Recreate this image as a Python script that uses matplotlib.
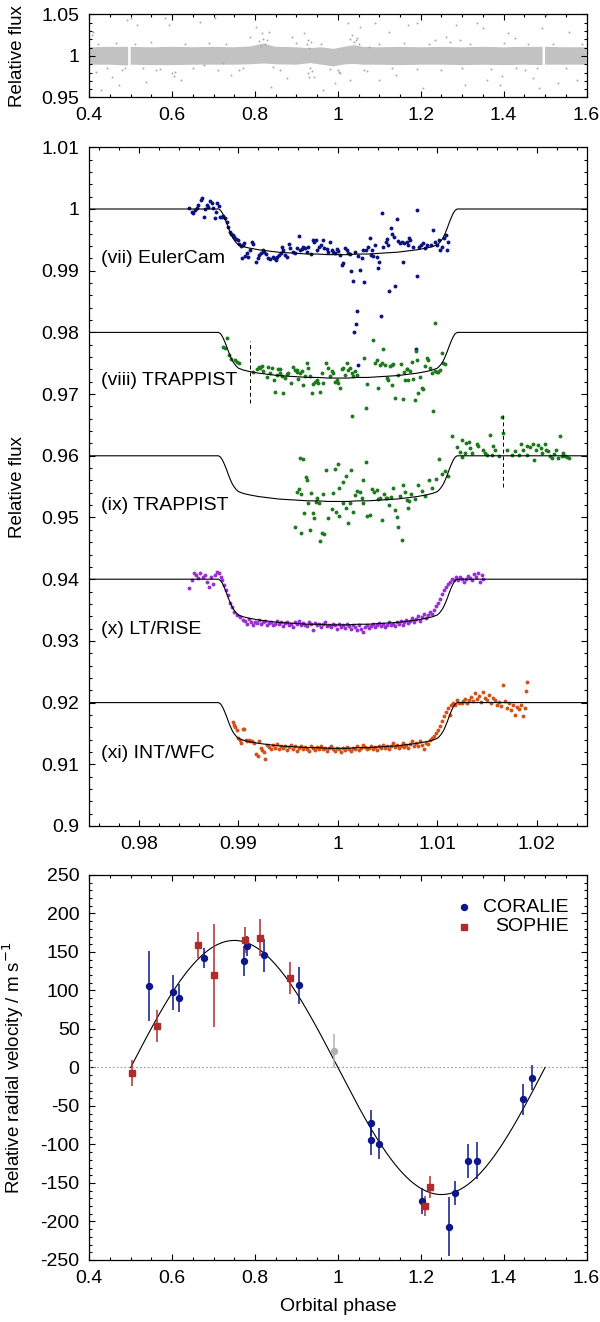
import numpy as np
import matplotlib
matplotlib.use("Agg")
import matplotlib.pyplot as plt
from matplotlib.ticker import MultipleLocator, FuncFormatter

plt.rcParams['font.family'] = ['Liberation Sans', 'DejaVu Sans']
plt.rcParams['font.size'] = 14
plt.rcParams['axes.unicode_minus'] = False

# ---------------------------------------------------------------- data
# WASP survey light curve: dense band envelope (phase, low, high) + sparse outliers
wasp_band_phase = [0.400, 0.450, 0.494, 0.497, 0.500, 0.550, 0.600, 0.650, 0.700, 0.750, 0.790, 0.820,
                   0.850, 0.900, 0.925, 0.935, 0.960, 0.990, 1.005, 1.020, 1.040, 1.060, 1.100, 1.150,
                   1.200, 1.250, 1.300, 1.350, 1.400, 1.450, 1.494, 1.497, 1.500, 1.550, 1.600]
wasp_band_low = [0.9895, 0.9895, 0.9885, np.nan, 0.9895, 0.9890, 0.9890, 0.9895, 0.9895, 0.9895, 0.9900, 0.9910,
                 0.9900, 0.9895, 0.9910, 0.9915, 0.9895, 0.9875, 0.9890, 0.9900, 0.9905, 0.9895, 0.9895, 0.9890,
                 0.9895, 0.9895, 0.9890, 0.9895, 0.9890, 0.9895, 0.9890, np.nan, 0.9895, 0.9895, 0.9895]
wasp_band_high = [1.0105, 1.0110, 1.0110, np.nan, 1.0110, 1.0105, 1.0110, 1.0105, 1.0110, 1.0105, 1.0115, 1.0150,
                  1.0110, 1.0105, 1.0095, 1.0095, 1.0105, 1.0085, 1.0100, 1.0115, 1.0130, 1.0110, 1.0105, 1.0110,
                  1.0105, 1.0110, 1.0105, 1.0110, 1.0105, 1.0110, 1.0110, np.nan, 1.0110, 1.0105, 1.0105]
wasp_outliers = [
    (0.4075, 1.0252), (0.4100, 1.0291), (0.4169, 0.9812), (0.4279, 0.9592), (0.4539, 0.9752), (0.4724, 0.9652),
    (0.4910, 1.0432), (0.5003, 1.0452), (0.5142, 1.0372), (0.5375, 0.9692), (0.5607, 0.9832), (0.5839, 1.0452),
    (0.5931, 1.0372), (0.6071, 0.9812), (0.6210, 0.9712), (0.6674, 1.0411), (0.6766, 0.9892), (0.7045, 1.0452),
    (0.7231, 0.9912), (0.7417, 0.9772), (0.7603, 0.9832), (0.7880, 1.0231), (0.8020, 1.0351), (0.8158, 1.0272),
    (0.8344, 1.0291), (0.8392, 0.9632), (0.8438, 0.9872), (0.8761, 0.9733), (0.8901, 1.0231), (0.9179, 1.0272),
    (0.9273, 1.0192), (0.9413, 0.9752), (0.9644, 0.9592), (0.9922, 0.9673), (1.0016, 0.9812), (1.0248, 1.0392),
    (1.0294, 0.9712), (1.0433, 1.0192), (1.0525, 1.0351), (1.0619, 0.9832), (1.0757, 1.0112), (1.0897, 1.0392),
    (1.0988, 0.9712), (1.1223, 1.0291), (1.1408, 0.9772), (1.1686, 1.0372), (1.1918, 1.0392), (1.2057, 0.9613),
    (1.2335, 1.0192), (1.2615, 1.0231), (1.2846, 1.0372), (1.2938, 1.0192), (1.3078, 0.9652), (1.3356, 1.0392),
    (1.3496, 1.0332), (1.3588, 0.9712), (1.3913, 0.9652), (1.4099, 1.0272), (1.4285, 1.0212), (1.4516, 0.9832),
    (1.4702, 0.9733), (1.4842, 0.9613), (1.4934, 1.0332), (1.5028, 1.0492), (1.5306, 0.9673), (1.5583, 1.0291),
    (1.5769, 0.9712), (0.4200, 1.0150), (0.4420, 0.9860), (0.4650, 1.0160), (0.4800, 0.9830), (0.4870, 0.9855),
    (0.5100, 1.0140), (0.5300, 0.9850), (0.5500, 1.0170), (0.5700, 0.9840), (0.6000, 0.9790), (0.6050, 0.9760),
    (0.6300, 1.0150), (0.6500, 0.9850), (0.6900, 1.0160), (0.7100, 0.9830), (0.7300, 1.0140), (0.7700, 0.9850),
    (0.8100, 1.0180), (0.8200, 1.0210), (0.8250, 1.0150), (0.8300, 1.0190), (0.8150, 1.0120), (0.8600, 0.9830),
    (0.9000, 1.0160), (0.9250, 1.0150), (0.9280, 0.9800), (0.9300, 0.9750), (0.9310, 1.0100), (0.9330, 0.9850),
    (0.9350, 1.0170), (0.9380, 0.9820), (0.9600, 1.0140), (0.9800, 0.9840), (1.0000, 0.9830), (1.0050, 0.9800),
    (1.0300, 1.0200), (1.0350, 1.0250), (1.0400, 1.0170), (1.0450, 1.0220), (1.0500, 1.0150), (1.0700, 0.9820),
    (1.1000, 1.0150), (1.1300, 0.9850), (1.1600, 1.0160), (1.1900, 0.9840), (1.2200, 1.0150), (1.2500, 0.9830),
    (1.2700, 1.0170), (1.3000, 0.9850), (1.3200, 1.0140), (1.3700, 0.9840), (1.3950, 0.9760), (1.4000, 1.0160),
    (1.4300, 0.9850), (1.4600, 1.0150), (1.4800, 0.9860), (1.5200, 1.0140), (1.5500, 0.9850), (1.5900, 1.0150),
]

# transit model template: half-width from mid-transit and depth
transit_dphi = [0.0000, 0.0010, 0.0020, 0.0030, 0.0040, 0.0050, 0.0060, 0.0070, 0.0080, 0.0090, 0.0095,
                0.0100, 0.0102, 0.0104, 0.0106, 0.0108, 0.0110, 0.0112, 0.0114, 0.0116, 0.0118, 0.0120]
transit_depth = [0.0074, 0.0074, 0.0073, 0.0073, 0.0072, 0.0071, 0.0070, 0.0068, 0.0066, 0.0063, 0.0061,
                 0.0058, 0.0055, 0.0051, 0.0046, 0.0039, 0.0031, 0.0022, 0.0014, 0.0007, 0.0002, 0.0000]
lc_names = ['(vii) EulerCam', '(viii) TRAPPIST', '(ix) TRAPPIST', '(x) LT/RISE', '(xi) INT/WFC']
lc_baselines = [1.00, 0.98, 0.96, 0.94, 0.92]
lc_label_y = [0.9920, 0.9722, 0.9519, 0.9319, 0.9117]
lc_colors = ['#0b1385', '#1e7a1e', '#1e7a1e', '#9a2fd6', '#d2521a']
meridian_flips = [(0.99117, 0.96861, 0.97866), (1.01662, 0.95499, 0.96661)]

euler = [
    (0.98503, 1.00011), (0.98530, 0.99946), (0.98547, 0.99930), (0.98564, 0.99984), (0.98581, 1.00022),
    (0.98597, 1.00065), (0.98621, 1.00146), (0.98634, 1.00184), (0.98654, 0.99876), (0.98664, 1.00000),
    (0.98681, 1.00065), (0.98698, 1.00038), (0.98715, 1.00130), (0.98731, 1.00092), (0.98748, 1.00011),
    (0.98765, 0.99849), (0.98775, 0.99957), (0.98788, 1.00092), (0.98808, 1.00054), (0.98815, 0.99876),
    (0.98832, 0.99865), (0.98849, 0.99892), (0.98865, 0.99849), (0.98882, 0.99795), (0.98899, 0.99714),
    (0.98916, 0.99633), (0.98926, 0.99590), (0.98942, 0.99579), (0.98959, 0.99552), (0.98976, 0.99514),
    (0.98993, 0.99498), (0.99009, 0.99428), (0.99026, 0.99406), (0.99043, 0.99417), (0.99056, 0.99444),
    (0.99036, 0.99201), (0.99066, 0.99244), (0.99083, 0.99293), (0.99100, 0.99228), (0.99117, 0.99336),
    (0.99133, 0.99460), (0.99150, 0.99439), (0.99177, 0.99136), (0.99194, 0.99201), (0.99210, 0.99255),
    (0.99224, 0.99293), (0.99244, 0.99336), (0.99261, 0.99309), (0.99277, 0.99266), (0.99301, 0.99212),
    (0.99318, 0.99190), (0.99344, 0.99228), (0.99361, 0.99212), (0.99374, 0.99174), (0.99391, 0.99228),
    (0.99408, 0.99255), (0.99425, 0.99282), (0.99435, 0.99385), (0.99452, 0.99336), (0.99468, 0.99255),
    (0.99485, 0.99228), (0.99505, 0.99428), (0.99519, 0.99374), (0.99545, 0.99309), (0.99569, 0.99282),
    (0.99586, 0.99363), (0.99609, 0.99563), (0.99619, 0.99331), (0.99636, 0.99352), (0.99653, 0.99385),
    (0.99669, 0.99374), (0.99686, 0.99309), (0.99703, 0.99385), (0.99726, 0.99277), (0.99746, 0.99498),
    (0.99763, 0.99471), (0.99780, 0.99498), (0.99793, 0.99336), (0.99813, 0.99390), (0.99827, 0.99417),
    (0.99854, 0.99498), (0.99864, 0.99363), (0.99887, 0.99352), (0.99904, 0.99309), (0.99921, 0.99471),
    (0.99938, 0.99336), (0.99954, 0.99309), (0.99971, 0.99282), (0.99988, 0.99347), (1.00005, 0.99320),
    (1.00021, 0.99255), (1.00038, 0.99093), (1.00055, 0.99131), (1.00071, 0.99363), (1.00088, 0.99336),
    (1.00105, 0.99282), (1.00122, 0.99266), (1.00132, 0.99001), (1.00148, 0.98839), (1.00172, 0.99309),
    (1.00205, 0.99244), (1.00222, 0.99017), (1.00239, 0.99201), (1.00249, 0.99331), (1.00266, 0.98823),
    (1.00279, 0.99331), (1.00299, 0.99390), (1.00323, 0.99536), (1.00329, 0.99255), (1.00346, 0.99336),
    (1.00356, 0.99244), (1.00373, 0.99417), (1.00390, 0.99228), (1.00400, 0.99039), (1.00413, 0.99136),
    (1.00440, 0.99941), (1.00457, 0.99390), (1.00483, 0.99471), (1.00497, 0.99509), (1.00507, 0.99417),
    (1.00517, 0.98672), (1.00530, 0.99687), (1.00547, 0.99595), (1.00560, 0.99552), (1.00574, 0.98753),
    (1.00591, 0.99838), (1.00607, 0.99482), (1.00624, 0.99444), (1.00641, 0.99460), (1.00651, 0.99147),
    (1.00664, 0.99444), (1.00691, 0.99471), (1.00711, 0.99536), (1.00189, 0.98347), (1.00179, 0.98130),
    (1.00162, 0.98012), (1.00431, 0.98271), (1.00206, 0.97472), (1.00786, 0.97726), (1.00702, 0.99416),
    (1.00728, 0.99497), (1.00755, 0.99389), (1.00799, 0.99984), (1.00818, 0.99389), (1.00837, 0.99416),
    (1.00857, 0.99443), (1.00876, 0.99362), (1.00896, 0.99416), (1.00934, 0.99416), (1.00954, 0.99659),
    (1.00973, 0.99470), (1.00992, 0.99416), (1.01012, 0.99497), (1.01031, 0.99335), (1.01050, 0.99389),
    (1.01070, 0.99524), (1.01089, 0.99578), (1.01096, 0.99335), (1.01108, 0.99470), (1.00799, 0.98919),
]

trappist_a = [
    (0.98842, 0.97758), (0.98865, 0.97742), (0.98882, 0.97904), (0.98909, 0.97633), (0.98922, 0.97563),
    (0.98966, 0.97552), (0.98989, 0.97525), (0.99009, 0.97509), (0.99151, 0.97364), (0.99184, 0.97402),
    (0.99211, 0.97434), (0.99234, 0.97456), (0.99251, 0.97380), (0.99285, 0.97283), (0.99301, 0.97445),
    (0.99318, 0.97348), (0.99335, 0.97418), (0.99358, 0.97229), (0.99368, 0.97040), (0.99385, 0.97310),
    (0.99402, 0.97402), (0.99419, 0.97337), (0.99435, 0.97294), (0.99452, 0.97013), (0.99469, 0.97256),
    (0.99486, 0.97326), (0.99502, 0.97337), (0.99526, 0.97186), (0.99553, 0.97445), (0.99569, 0.97391),
    (0.99586, 0.97364), (0.99603, 0.97240), (0.99620, 0.97348), (0.99636, 0.97380), (0.99653, 0.97148),
    (0.99670, 0.97294), (0.99687, 0.97499), (0.99703, 0.97418), (0.99720, 0.97294), (0.99737, 0.97013),
    (0.99754, 0.97159), (0.99771, 0.97202), (0.99787, 0.97229), (0.99804, 0.97175), (0.99821, 0.97040),
    (0.99838, 0.97337), (0.99854, 0.97186), (0.99881, 0.97499), (0.99905, 0.97418), (0.99921, 0.97294),
    (0.99938, 0.97380), (0.99955, 0.97337), (0.99972, 0.97202), (0.99988, 0.97229), (1.00005, 0.97175),
    (1.00022, 0.97094), (1.00039, 0.97402), (1.00055, 0.97418), (1.00072, 0.97310), (1.00089, 0.97510),
    (1.00106, 0.97391), (1.00123, 0.97418), (1.00139, 0.97337), (1.00156, 0.97294), (1.00173, 0.97380),
    (1.00189, 0.97310), (1.00266, 0.97580), (1.00290, 0.97159), (1.00280, 0.96770), (1.00146, 0.96645),
    (1.00357, 0.97877), (1.00374, 0.97499), (1.00390, 0.97553), (1.00407, 0.97094), (1.00424, 0.97472),
    (1.00441, 0.97510), (1.00458, 0.97726), (1.00474, 0.97472), (1.00491, 0.97256), (1.00508, 0.97229),
    (1.00525, 0.97456), (1.00541, 0.97148), (1.00558, 0.97488), (1.00578, 0.96942), (1.00608, 0.97310),
    (1.00632, 0.97488), (1.00652, 0.96921), (1.00665, 0.97364), (1.00675, 0.97229), (1.00692, 0.97402),
    (1.00709, 0.97229), (1.00726, 0.97380), (1.00742, 0.97526), (1.00759, 0.97240), (1.00773, 0.96905),
    (1.00794, 0.97553), (1.00809, 0.97024), (1.00826, 0.97272), (1.00843, 0.97094), (1.00860, 0.97078),
    (1.00877, 0.97456), (1.00893, 0.97580), (1.00910, 0.97553), (1.00927, 0.97418), (1.00944, 0.97348),
    (1.00960, 0.96726), (1.00977, 0.97380), (1.00994, 0.97364), (1.01011, 0.97364), (1.01028, 0.97391),
    (1.01044, 0.97661), (1.01061, 0.97499), (1.01078, 0.97488), (1.00973, 0.98158), (1.00790, 0.97700),
    (0.99217, 0.97417), (0.99418, 0.97401), (0.99586, 0.97390), (1.00541, 0.97471), (1.00692, 0.97401),
]

trappist_b = [
    (0.99619, 0.95959), (0.99646, 0.95948), (0.99881, 0.95770), (0.99971, 0.95781), (0.99998, 0.95862),
    (1.00132, 0.95770), (1.00283, 0.95905), (0.99680, 0.95662), (0.99693, 0.95608), (1.00079, 0.95678),
    (1.00250, 0.95608), (1.00055, 0.95570), (1.00015, 0.95473), (0.99955, 0.95403), (0.99593, 0.95419),
    (0.99609, 0.95457), (0.99730, 0.95392), (0.99794, 0.95311), (0.99854, 0.95376), (0.99780, 0.95257),
    (0.99807, 0.95230), (0.99703, 0.95230), (0.99626, 0.95376), (0.99660, 0.95078), (0.99747, 0.95068),
    (0.99760, 0.94987), (0.99898, 0.94987), (0.99938, 0.95132), (0.99981, 0.95095), (1.00015, 0.95024),
    (1.00048, 0.95230), (1.00082, 0.95149), (1.00105, 0.94906), (1.00122, 0.95230), (1.00156, 0.95084),
    (1.00176, 0.95365), (1.00189, 0.95430), (1.00223, 0.95408), (1.00240, 0.95311), (1.00256, 0.95230),
    (1.00290, 0.95030), (1.00323, 0.95041), (1.00343, 0.95457), (1.00364, 0.95419), (1.00390, 0.95446),
    (1.00407, 0.95295), (1.00424, 0.95322), (1.00441, 0.94960), (1.00464, 0.95376), (1.00481, 0.95311),
    (1.00498, 0.95322), (1.00518, 0.95203), (1.00531, 0.95338), (1.00558, 0.95484), (1.00575, 0.95122),
    (1.00591, 0.95014), (1.00608, 0.94852), (1.00625, 0.95354), (1.00642, 0.94636), (1.00652, 0.95527),
    (1.00675, 0.95419), (1.00692, 0.95284), (1.00709, 0.95149), (1.00719, 0.95268), (0.99569, 0.94852),
    (0.99626, 0.94754), (0.99720, 0.94798), (0.99837, 0.94744), (0.99861, 0.94733), (0.99821, 0.94619),
    (1.00740, 0.95380), (1.00780, 0.95300), (1.00810, 0.95520), (1.00850, 0.95430), (1.00880, 0.95350),
    (1.00920, 0.95600), (1.00950, 0.95480), (1.00990, 0.95620), (1.01020, 0.95950), (1.01050, 0.95700),
    (1.01080, 0.95760), (1.01110, 0.95680), (1.01145, 0.96327), (1.01195, 0.96138), (1.01228, 0.96067),
    (1.01245, 0.96256), (1.01279, 0.96040), (1.01289, 0.96202), (1.01319, 0.96229), (1.01346, 0.96051),
    (1.01396, 0.96192), (1.01413, 0.96159), (1.01456, 0.96094), (1.01503, 0.96013), (1.01530, 0.96337),
    (1.01547, 0.96013), (1.01564, 0.96159), (1.01580, 0.96094), (1.01647, 0.96635), (1.01664, 0.96375),
    (1.01698, 0.96094), (1.01748, 0.96013), (1.01838, 0.96192), (1.01865, 0.96094), (1.01899, 0.96159),
    (1.01932, 0.96148), (1.01959, 0.96192), (1.01989, 0.96094), (1.02016, 0.96175), (1.02050, 0.96051),
    (1.02083, 0.96192), (1.02093, 0.96094), (1.02130, 0.95990), (1.02170, 0.96030), (1.02210, 0.95960),
    (1.02229, 0.96321), (1.02249, 0.95990), (1.02288, 0.96000), (1.02326, 0.95970), (1.01250, 0.95980),
    (1.01330, 0.96130), (1.01480, 0.96050), (1.01620, 0.95990), (1.01780, 0.96080), (1.01820, 0.96020),
    (1.01900, 0.96010), (1.01970, 0.95930), (1.02040, 0.96130), (1.02110, 0.96070), (1.02150, 0.95960),
    (1.02190, 0.96100), (1.02260, 0.96050), (1.02300, 0.95980),
]

lt_rise = [
    (0.98500, 0.93853), (0.98530, 0.93990), (0.98550, 0.94100), (0.98570, 0.94070), (0.98590, 0.94020),
    (0.98610, 0.94100), (0.98640, 0.94040), (0.98660, 0.94070), (0.98680, 0.93960), (0.98700, 0.93880),
    (0.98720, 0.94040), (0.98740, 0.93930), (0.98760, 0.94070), (0.98780, 0.94110), (0.98800, 0.94100),
    (0.98820, 0.94040), (0.98840, 0.93990), (0.98860, 0.93900), (0.98880, 0.93820), (0.98900, 0.93740),
    (0.98916, 0.93609), (0.98935, 0.93544), (0.98954, 0.93474), (0.98981, 0.93420), (0.99020, 0.93382),
    (0.99047, 0.93339), (0.99070, 0.93330), (0.99090, 0.93280), (0.99110, 0.93360), (0.99130, 0.93300),
    (0.99150, 0.93250), (0.99170, 0.93310), (0.99190, 0.93290), (0.99210, 0.93340), (0.99230, 0.93270),
    (0.99250, 0.93300), (0.99270, 0.93320), (0.99290, 0.93260), (0.99310, 0.93290), (0.99330, 0.93310),
    (0.99350, 0.93250), (0.99370, 0.93280), (0.99390, 0.93330), (0.99410, 0.93270), (0.99430, 0.93300),
    (0.99450, 0.93240), (0.99470, 0.93290), (0.99490, 0.93310), (0.99510, 0.93260), (0.99530, 0.93280),
    (0.99550, 0.93230), (0.99570, 0.93300), (0.99590, 0.93270), (0.99610, 0.93320), (0.99630, 0.93250),
    (0.99650, 0.93290), (0.99670, 0.93260), (0.99690, 0.93240), (0.99710, 0.93300), (0.99730, 0.93270),
    (0.99750, 0.93180), (0.99770, 0.93290), (0.99790, 0.93250), (0.99810, 0.93280), (0.99830, 0.93230),
    (0.99850, 0.93270), (0.99870, 0.93300), (0.99890, 0.93240), (0.99910, 0.93260), (0.99930, 0.93220),
    (0.99950, 0.93280), (0.99970, 0.93250), (0.99990, 0.93200), (1.00010, 0.93270), (1.00030, 0.93230),
    (1.00050, 0.93260), (1.00070, 0.93210), (1.00090, 0.93280), (1.00110, 0.93240), (1.00130, 0.93190),
    (1.00150, 0.93260), (1.00170, 0.93220), (1.00190, 0.93170), (1.00210, 0.93250), (1.00230, 0.93200),
    (1.00250, 0.93150), (1.00270, 0.93230), (1.00290, 0.93260), (1.00310, 0.93210), (1.00330, 0.93240),
    (1.00350, 0.93270), (1.00370, 0.93230), (1.00390, 0.93250), (1.00410, 0.93290), (1.00430, 0.93240),
    (1.00450, 0.93270), (1.00470, 0.93220), (1.00490, 0.93260), (1.00510, 0.93300), (1.00530, 0.93250),
    (1.00550, 0.93280), (1.00570, 0.93240), (1.00590, 0.93300), (1.00610, 0.93270), (1.00630, 0.93320),
    (1.00650, 0.93260), (1.00670, 0.93300), (1.00690, 0.93340), (1.00710, 0.93290), (1.00730, 0.93320),
    (1.00750, 0.93370), (1.00770, 0.93310), (1.00790, 0.93350), (1.00810, 0.93400), (1.00830, 0.93330),
    (1.00850, 0.93380), (1.00870, 0.93430), (1.00890, 0.93370), (1.00910, 0.93420), (1.00930, 0.93470),
    (1.00950, 0.93440), (1.00970, 0.93500), (1.00990, 0.93560), (1.01010, 0.93620), (1.01030, 0.93680),
    (1.01050, 0.93760), (1.01070, 0.93820), (1.01090, 0.93880), (1.01110, 0.93930), (1.01130, 0.93960),
    (1.01150, 0.94010), (1.01170, 0.93990), (1.01190, 0.94030), (1.01210, 0.93980), (1.01230, 0.94040),
    (1.01250, 0.94010), (1.01270, 0.93960), (1.01290, 0.94000), (1.01310, 0.94050), (1.01330, 0.94020),
    (1.01350, 0.93990), (1.01370, 0.94080), (1.01390, 0.94040), (1.01410, 0.94100), (1.01430, 0.93960),
    (1.01450, 0.94070), (1.01460, 0.94000),
]

int_wfc = [
    (0.98950, 0.91690), (0.98960, 0.91640), (0.98970, 0.91610), (0.98985, 0.91560), (0.99000, 0.91420),
    (0.99015, 0.91390), (0.99030, 0.91340), (0.99045, 0.91580), (0.99060, 0.91570), (0.99075, 0.91390),
    (0.99090, 0.91370), (0.99105, 0.91400), (0.99120, 0.91380), (0.99140, 0.91380), (0.99160, 0.91340),
    (0.99180, 0.91160), (0.99195, 0.91130), (0.99210, 0.91370), (0.99225, 0.91260), (0.99240, 0.91230),
    (0.99255, 0.91200), (0.99270, 0.91090), (0.99290, 0.91310), (0.99310, 0.91280), (0.99330, 0.91250),
    (0.99350, 0.91310), (0.99370, 0.91270), (0.99390, 0.91330), (0.99410, 0.91240), (0.99430, 0.91290),
    (0.99450, 0.91260), (0.99470, 0.91300), (0.99490, 0.91230), (0.99510, 0.91280), (0.99530, 0.91310),
    (0.99550, 0.91250), (0.99570, 0.91290), (0.99590, 0.91220), (0.99610, 0.91270), (0.99630, 0.91300),
    (0.99650, 0.91240), (0.99670, 0.91280), (0.99690, 0.91250), (0.99710, 0.91210), (0.99730, 0.91290),
    (0.99750, 0.91260), (0.99770, 0.91230), (0.99790, 0.91280), (0.99810, 0.91250), (0.99830, 0.91300),
    (0.99850, 0.91240), (0.99870, 0.91270), (0.99890, 0.91220), (0.99910, 0.91260), (0.99930, 0.91290),
    (0.99950, 0.91240), (0.99970, 0.91210), (0.99990, 0.91270), (1.00010, 0.91250), (1.00030, 0.91200),
    (1.00050, 0.91260), (1.00070, 0.91230), (1.00090, 0.91280), (1.00110, 0.91240), (1.00130, 0.91210),
    (1.00150, 0.91270), (1.00170, 0.91250), (1.00190, 0.91290), (1.00210, 0.91230), (1.00230, 0.91260),
    (1.00250, 0.91310), (1.00270, 0.91280), (1.00290, 0.91240), (1.00310, 0.91270), (1.00330, 0.91300),
    (1.00350, 0.91250), (1.00370, 0.91280), (1.00390, 0.91230), (1.00410, 0.91290), (1.00430, 0.91260),
    (1.00450, 0.91320), (1.00470, 0.91270), (1.00490, 0.91300), (1.00510, 0.91250), (1.00530, 0.91290),
    (1.00550, 0.91340), (1.00570, 0.91280), (1.00590, 0.91310), (1.00610, 0.91260), (1.00630, 0.91300),
    (1.00650, 0.91350), (1.00670, 0.91280), (1.00690, 0.91320), (1.00710, 0.91270), (1.00730, 0.91330),
    (1.00750, 0.91370), (1.00770, 0.91300), (1.00790, 0.91340), (1.00810, 0.91290), (1.00830, 0.91380),
    (1.00850, 0.91310), (1.00870, 0.91250), (1.00890, 0.91350), (1.00910, 0.91330), (1.00930, 0.91390),
    (1.00950, 0.91420), (1.00970, 0.91460), (1.00990, 0.91510), (1.01010, 0.91560), (1.01030, 0.91620),
    (1.01050, 0.91700), (1.01070, 0.91780), (1.01090, 0.91850), (1.01110, 0.91920), (1.01128, 0.91799),
    (1.01140, 0.91960), (1.01160, 0.92000), (1.01180, 0.91960), (1.01200, 0.92040), (1.01220, 0.91990),
    (1.01244, 0.91988), (1.01260, 0.92020), (1.01280, 0.92060), (1.01300, 0.92000), (1.01320, 0.92050),
    (1.01340, 0.92090), (1.01360, 0.92020), (1.01380, 0.92150), (1.01400, 0.92060), (1.01420, 0.92100),
    (1.01440, 0.92010), (1.01460, 0.92170), (1.01476, 0.92080), (1.01500, 0.92040), (1.01520, 0.92120),
    (1.01540, 0.92000), (1.01560, 0.92080), (1.01580, 0.92050), (1.01600, 0.91960), (1.01620, 0.92010),
    (1.01640, 0.91940), (1.01660, 0.92285), (1.01680, 0.92030), (1.01700, 0.91920), (1.01720, 0.91990),
    (1.01740, 0.91880), (1.01760, 0.91960), (1.01785, 0.91799), (1.01800, 0.91930), (1.01820, 0.91890),
    (1.01840, 0.91960), (1.01860, 0.91783), (1.01880, 0.91910), (1.01895, 0.92188), (1.01901, 0.92339),
]

# radial velocities: (phase, RV m/s, error)
coralie_rv = [
    (0.5448, 105.8, 46), (0.6024, 97.6, 23), (0.6170, 90.5, 18), (0.6767, 142.6, 13), (0.7730, 138.3, 20),
    (0.7806, 158.2, 13), (0.8214, 145.6, 21), (0.9068, 106.8, 24), (1.0790, -94.2, 20), (1.0810, -72.6, 17),
    (1.0990, -99.0, 20), (1.2037, -173.0, 17), (1.2670, -206.7, 38), (1.2826, -163.0, 15), (1.3140, -122.0, 22),
    (1.3346, -121.0, 24), (1.4470, -41.3, 20), (1.4680, -13.2, 16),
]
sophie_rv = [
    (0.5030, -7.6, 17), (0.5634, 54.0, 21), (0.6636, 159.5, 17), (0.7018, 120.0, 67), (0.7750, 166.0, 17),
    (0.8112, 168.2, 24), (0.8836, 116.2, 21), (1.2112, -180.0, 13), (1.2232, -155.0, 14),
]
excluded_rv = [(0.9900, 21.0, 22)]
rv_semi_amplitude = 165.0

# ---------------------------------------------------------------- style helpers
fmt = FuncFormatter(lambda v, p: '%g' % round(v, 6))


def style(ax, xmaj, xmin, ymaj, ymin):
    ax.xaxis.set_major_locator(MultipleLocator(xmaj))
    ax.xaxis.set_minor_locator(MultipleLocator(xmin))
    ax.yaxis.set_major_locator(MultipleLocator(ymaj))
    ax.yaxis.set_minor_locator(MultipleLocator(ymin))
    ax.xaxis.set_major_formatter(fmt)
    ax.yaxis.set_major_formatter(fmt)
    ax.tick_params(which='both', direction='in', top=True, right=True, width=0.8)
    ax.tick_params(which='major', length=4.5, pad=7)
    ax.tick_params(which='minor', length=2.5)
    for s in ax.spines.values():
        s.set_linewidth(0.9)


fig = plt.figure(figsize=(6.0, 13.22), dpi=100)
L, W = 0.1487, 0.8288
ax1 = fig.add_axes([L, 0.92625, W, 0.0628])
ax2 = fig.add_axes([L, 0.37519, W, 0.51339])
ax3 = fig.add_axes([L, 0.04690, W, 0.29123])
YLAB = 13.5
YLAB_X = -0.127

# ---------------------------------------------------------------- top: WASP
ax1.fill_between(wasp_band_phase, wasp_band_low, wasp_band_high, color='#c2c2c2', lw=0)
wo = np.array(wasp_outliers)
ax1.plot(wo[:, 0], wo[:, 1], 'o', ms=1.4, mew=0, color='#a8a8a8')
ax1.set_xlim(0.4, 1.6)
ax1.set_ylim(0.95, 1.05)
style(ax1, 0.2, 0.05, 0.05, 0.01)
ax1.set_ylabel('Relative flux', fontsize=YLAB)
ax1.yaxis.set_label_coords(YLAB_X, 0.5)

# ---------------------------------------------------------------- middle: transits
dphi = np.array(transit_dphi)
depth = np.array(transit_depth)
model_x = np.concatenate([[0.975], 1.0 - dphi[::-1], 1.0 + dphi[1:], [1.025]])
model_d = np.concatenate([[0.0], depth[::-1], depth[1:], [0.0]])

datasets = [euler, trappist_a, trappist_b, lt_rise, int_wfc]
for data, base, col, name, ly in zip(datasets, lc_baselines, lc_colors, lc_names, lc_label_y):
    d = np.array(data)
    ax2.plot(d[:, 0], d[:, 1], 'o', ms=2.8, mew=0, color=col, zorder=2)
    ax2.plot(model_x, base - model_d, color='black', lw=0.8, zorder=3)
    ax2.text(0.9762, ly, name, ha='left', va='center')
for xf, y0, y1 in meridian_flips:
    ax2.plot([xf, xf], [y0, y1], color='black', lw=0.7, ls=(0, (4, 3)))
ax2.set_xlim(0.975, 1.025)
ax2.set_ylim(0.9, 1.01)
style(ax2, 0.01, 0.002, 0.01, 0.002)
ax2.set_ylabel('Relative flux', fontsize=YLAB)
ax2.yaxis.set_label_coords(YLAB_X, 0.5)

# ---------------------------------------------------------------- bottom: RVs
ax3.axhline(0, color='#9a9a9a', lw=0.8, ls=(0, (1.5, 2)))
ph = np.linspace(0.5, 1.5, 500)
ax3.plot(ph, -rv_semi_amplitude * np.sin(2 * np.pi * ph), color='black', lw=0.8, zorder=2)
ex = np.array(excluded_rv)
ax3.errorbar(ex[:, 0], ex[:, 1], yerr=ex[:, 2], fmt='o', ms=4.3, color='#b0b0b0', elinewidth=1.1, capsize=0, zorder=3)
co = np.array(coralie_rv)
ax3.errorbar(co[:, 0], co[:, 1], yerr=co[:, 2], fmt='o', ms=4.3, color='#0d168a', elinewidth=1.1, capsize=0, zorder=4)
so = np.array(sophie_rv)
ax3.errorbar(so[:, 0], so[:, 1], yerr=so[:, 2], fmt='s', ms=4.0, color='#b02c2c', elinewidth=1.1, capsize=0, zorder=4)

# key (right-aligned text, markers on the left as in the original)
ax3.plot([0.7527], [0.916], 'o', ms=4.3, color='#0d168a', transform=ax3.transAxes, clip_on=False)
ax3.plot([0.7527], [0.865], 's', ms=4.0, color='#b02c2c', transform=ax3.transAxes, clip_on=False)
ax3.text(0.964, 0.916, 'CORALIE', transform=ax3.transAxes, ha='right', va='center')
ax3.text(0.964, 0.865, 'SOPHIE', transform=ax3.transAxes, ha='right', va='center')

ax3.set_xlim(0.4, 1.6)
ax3.set_ylim(-250, 250)
style(ax3, 0.2, 0.05, 50, 10)
ax3.set_xlabel('Orbital phase', labelpad=8)
ax3.set_ylabel('Relative radial velocity / m s$^{-1}$', fontsize=YLAB)
ax3.yaxis.set_label_coords(YLAB_X, 0.5)

fig.savefig('out.png', dpi=100)
